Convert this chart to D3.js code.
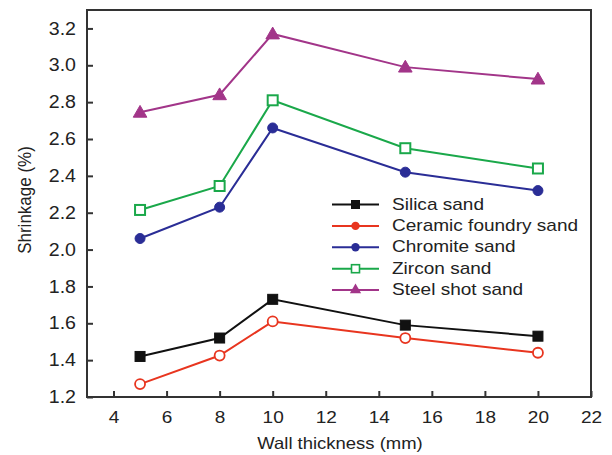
<!DOCTYPE html>
<html><head><meta charset="utf-8">
<script src="https://cdn.jsdelivr.net/npm/d3@7"></script>
<style>body{margin:0;background:#fff}svg{display:block}</style>
</head><body><svg id="c" width="612" height="455"></svg>
<script>
const thickness = [5, 8, 10, 15, 20];
const silica   = [1.42, 1.52, 1.73, 1.59, 1.53];
const ceramic  = [1.27, 1.425, 1.61, 1.52, 1.44];
const chromite = [2.06, 2.23, 2.66, 2.42, 2.32];
const zircon   = [2.215, 2.345, 2.81, 2.55, 2.44];
const steel    = [2.745, 2.84, 3.17, 2.99, 2.925];
const seriesNames = ["Silica sand","Ceramic foundry sand","Chromite sand","Zircon sand","Steel shot sand"];
const xTicks = [4,6,8,10,12,14,16,18,20,22];
const yTicks = [1.2,1.4,1.6,1.8,2.0,2.2,2.4,2.6,2.8,3.0,3.2];

const series = [
  {name: seriesNames[0], vals: silica,   color:"#111111", marker:"square",   fill:true},
  {name: seriesNames[1], vals: ceramic,  color:"#e8351f", marker:"circle",   fill:false, legendFill:true},
  {name: seriesNames[2], vals: chromite, color:"#2a2d96", marker:"circle",   fill:true},
  {name: seriesNames[3], vals: zircon,   color:"#1aa84a", marker:"square",   fill:false},
  {name: seriesNames[4], vals: steel,    color:"#a23589", marker:"triangle", fill:true}
];

const svg = d3.select("#c");
const L=87, R=591, T=10, B=397;
const SX = 1.12; // horizontal stretch of glyphs in the reference
const x = d3.scaleLinear().domain([3,22]).range([L,R]);
const y = d3.scaleLinear().domain([1.2,3.3]).range([B,T]);
const font = "Liberation Sans, Arial, sans-serif";
const txtCol = "#222";

// frame
svg.append("rect").attr("x",L).attr("y",T).attr("width",R-L).attr("height",B-T)
  .attr("fill","none").attr("stroke","#333").attr("stroke-width",2);

const xAxis = svg.append("g").attr("transform",`translate(0,${B})`)
  .call(d3.axisBottom(x).tickValues(xTicks).tickSize(-6).tickPadding(14).tickFormat(d3.format("d")));
const yAxis = svg.append("g").attr("transform",`translate(${L},0)`)
  .call(d3.axisLeft(y).tickValues(yTicks).tickSize(-6).tickPadding(11).tickFormat(d3.format(".1f")));
[xAxis,yAxis].forEach(a=>{
  a.select(".domain").remove();
  a.selectAll(".tick line").attr("stroke","#333").attr("stroke-width",2);
});
xAxis.selectAll(".tick text").attr("font-family",font).attr("font-size",17).attr("fill",txtCol)
  .attr("transform",`scale(${SX},1)`);
yAxis.selectAll(".tick text").attr("font-family",font).attr("font-size",17.5).attr("fill",txtCol)
  .attr("x",-11/SX).attr("transform",`scale(${SX},1)`);

svg.append("text").attr("transform",`translate(340,449) scale(${SX},1)`).attr("text-anchor","middle")
  .attr("font-family",font).attr("font-size",16.5).attr("fill",txtCol).text("Wall thickness (mm)");
svg.append("text").attr("transform",`translate(31,200) scale(${SX},1) rotate(-90)`).attr("text-anchor","middle")
  .attr("font-family",font).attr("font-size",17).attr("fill",txtCol).text("Shrinkage (%)");

function drawMarker(g, s, cx, cy, filled){
  const f = filled ? s.color : "#fff";
  if(s.marker==="square"){
    g.append("rect").attr("x",cx-5).attr("y",cy-5).attr("width",10).attr("height",10)
      .attr("fill",f).attr("stroke",s.color).attr("stroke-width",filled?1:2);
  } else if(s.marker==="circle"){
    g.append("circle").attr("cx",cx).attr("cy",cy).attr("r",5)
      .attr("fill",f).attr("stroke",s.color).attr("stroke-width",filled?1:1.8);
  } else {
    g.append("path").attr("d",d3.symbol(d3.symbolTriangle,80)())
      .attr("transform",`translate(${cx},${cy+1})`).attr("fill",f).attr("stroke",s.color);
  }
}

const line = d3.line().x(d=>x(d[0])).y(d=>y(d[1]));
series.forEach(s=>{
  const pts = thickness.map((t,i)=>[t,s.vals[i]]);
  svg.append("path").datum(pts).attr("d",line).attr("fill","none")
    .attr("stroke",s.color).attr("stroke-width",2);
  const g = svg.append("g");
  pts.forEach(p=>drawMarker(g,s,x(p[0]),y(p[1]),s.fill));
});

// legend
const leg = svg.append("g");
series.forEach((s,i)=>{
  const yy = 204.5 + i*21.4;
  leg.append("line").attr("x1",332).attr("x2",379).attr("y1",yy).attr("y2",yy)
    .attr("stroke",s.color).attr("stroke-width",2);
  const lf = s.legendFill!==undefined ? s.legendFill : s.fill;
  const g = leg.append("g");
  if(s.marker==="square"){
    g.append("rect").attr("x",351.5).attr("y",yy-4).attr("width",8).attr("height",8)
      .attr("fill",lf?s.color:"#fff").attr("stroke",s.color).attr("stroke-width",lf?1:1.6);
  } else if(s.marker==="circle"){
    g.append("circle").attr("cx",355.5).attr("cy",yy).attr("r",4.2).attr("fill",s.color);
  } else {
    g.append("path").attr("d",d3.symbol(d3.symbolTriangle,55)())
      .attr("transform",`translate(355.5,${yy})`).attr("fill",s.color);
  }
  leg.append("text").attr("transform",`translate(392,${yy+5}) scale(${SX},1)`)
    .attr("font-family",font).attr("font-size",17).attr("fill",txtCol).text(s.name);
});
</script></body></html>
